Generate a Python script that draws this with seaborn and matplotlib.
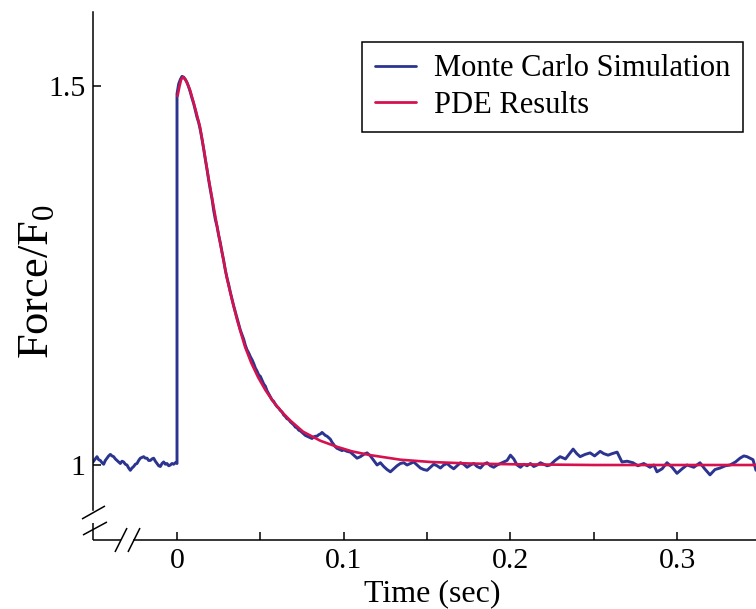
import matplotlib
matplotlib.use("Agg")
import matplotlib.pyplot as plt
import seaborn as sns
import pandas as pd

# ---------------- data ----------------
mc_time = [
    -0.0504, -0.049, -0.048, -0.047, -0.046, -0.045, -0.044, -0.043, -0.042, -0.041,
    -0.040, -0.039, -0.038, -0.037, -0.036, -0.035, -0.034, -0.033, -0.032, -0.031,
    -0.030, -0.029, -0.028, -0.027, -0.026, -0.025, -0.024, -0.023, -0.022, -0.021,
    -0.020, -0.019, -0.018, -0.017, -0.016, -0.015, -0.014, -0.013, -0.012, -0.011,
    -0.010, -0.009, -0.008, -0.007, -0.006, -0.005, -0.004, -0.003, -0.002, -0.001,
    0.0, 0.0,
    0.001, 0.002, 0.003, 0.004, 0.005, 0.006, 0.007, 0.008, 0.009, 0.010,
    0.011, 0.012, 0.013, 0.014, 0.015, 0.016, 0.017, 0.018, 0.019, 0.020,
    0.021, 0.022, 0.023, 0.024, 0.025, 0.026, 0.027, 0.028, 0.029, 0.030,
    0.031, 0.032, 0.033, 0.034, 0.035, 0.036, 0.037, 0.038, 0.039, 0.040,
    0.041, 0.042, 0.043, 0.044, 0.045, 0.046, 0.047, 0.048, 0.049, 0.050,
    0.051, 0.052, 0.053, 0.054, 0.055, 0.056, 0.057, 0.058, 0.059, 0.060,
    0.061, 0.062, 0.063, 0.064, 0.065, 0.066, 0.067, 0.068, 0.069, 0.070,
    0.071, 0.072, 0.073, 0.074, 0.075, 0.076, 0.077, 0.078, 0.079, 0.080,
    0.081, 0.082, 0.083, 0.084, 0.085, 0.086, 0.087, 0.088, 0.089, 0.090,
    0.091, 0.092, 0.093, 0.094, 0.095, 0.096, 0.097, 0.098, 0.099, 0.100,
    0.102, 0.104, 0.106, 0.108, 0.110, 0.112, 0.114, 0.116, 0.118, 0.120,
    0.122, 0.124, 0.126, 0.128, 0.130, 0.132, 0.134, 0.136, 0.138, 0.140,
    0.142, 0.144, 0.146, 0.148, 0.150, 0.152, 0.154, 0.156, 0.158, 0.160,
    0.162, 0.164, 0.166, 0.168, 0.170, 0.172, 0.174, 0.176, 0.178, 0.180,
    0.182, 0.184, 0.186, 0.188, 0.190, 0.192, 0.194, 0.196, 0.198, 0.200,
    0.202, 0.204, 0.206, 0.208, 0.210, 0.212, 0.214, 0.216, 0.218, 0.220,
    0.222, 0.2238, 0.2268, 0.2298, 0.2330, 0.2355, 0.2376, 0.2398, 0.2418, 0.2448,
    0.2478, 0.2505, 0.2538, 0.2560, 0.2586, 0.2610, 0.2640, 0.2669, 0.2700, 0.2735,
    0.2765, 0.2800, 0.2837, 0.2860, 0.2879, 0.2910, 0.2939, 0.2970, 0.2999, 0.3030,
    0.3059, 0.3100, 0.3137, 0.3165, 0.3197, 0.3227, 0.3257, 0.3290, 0.3317, 0.3350,
    0.3377, 0.3400, 0.3419, 0.3445, 0.3455, 0.3473,
]
mc_force = [
    1.004, 1.008, 1.011, 1.007, 1.006, 1.003, 1.001, 1.006, 1.009, 1.012,
    1.014, 1.012, 1.011, 1.008, 1.006, 1.004, 1.002, 1.005, 1.004, 1.001,
    1.000, 0.996, 0.993, 0.996, 0.998, 1.001, 1.002, 1.006, 1.009, 1.010,
    1.011, 1.009, 1.009, 1.006, 1.006, 1.008, 1.009, 1.005, 1.002, 0.999,
    0.998, 1.002, 1.004, 1.001, 1.002, 0.999, 1.000, 1.002, 1.001, 1.003,
    1.002, 1.490,
    1.503, 1.509, 1.513, 1.512, 1.509, 1.505, 1.499, 1.492, 1.484, 1.477,
    1.468, 1.459, 1.452, 1.442, 1.430, 1.417, 1.403, 1.390, 1.376, 1.363,
    1.351, 1.336, 1.324, 1.315, 1.303, 1.293, 1.281, 1.270, 1.257, 1.247,
    1.238, 1.228, 1.219, 1.210, 1.202, 1.194, 1.186, 1.178, 1.172, 1.166,
    1.158, 1.152, 1.148, 1.143, 1.139, 1.134, 1.128, 1.124, 1.119, 1.117,
    1.112, 1.107, 1.104, 1.098, 1.094, 1.090, 1.086, 1.084, 1.080, 1.077,
    1.075, 1.072, 1.070, 1.066, 1.064, 1.061, 1.060, 1.057, 1.055, 1.053,
    1.050, 1.049, 1.046, 1.045, 1.043, 1.041, 1.039, 1.038, 1.037, 1.036,
    1.035, 1.037, 1.038, 1.038, 1.040, 1.041, 1.043, 1.041, 1.039, 1.038,
    1.036, 1.034, 1.030, 1.027, 1.024, 1.022, 1.021, 1.020, 1.019, 1.020,
    1.018, 1.017, 1.013, 1.009, 1.011, 1.014, 1.016, 1.012, 1.006, 1.000,
    1.003, 0.998, 0.994, 0.991, 0.995, 0.999, 1.002, 1.003, 1.000, 1.002,
    1.004, 1.000, 0.996, 0.994, 0.993, 0.997, 1.001, 0.999, 0.996, 1.000,
    1.002, 0.998, 0.995, 0.999, 1.003, 1.001, 0.997, 1.000, 1.002, 0.998,
    0.996, 1.001, 1.003, 0.999, 0.997, 1.000, 1.002, 1.004, 1.006, 1.013,
    1.008, 1.000, 0.997, 1.001, 0.999, 1.002, 0.998, 1.000, 1.003, 1.001,
    0.999, 1.000, 1.006, 1.011, 1.008, 1.015, 1.021, 1.015, 1.011, 1.014,
    1.016, 1.012, 1.018, 1.015, 1.013, 1.015, 1.017, 1.004, 1.005, 1.003,
    0.999, 1.002, 0.997, 1.000, 0.991, 0.995, 1.003, 0.997, 0.989, 0.995,
    1.000, 0.997, 1.003, 0.995, 0.987, 0.994, 0.996, 0.999, 1.000, 1.004,
    1.009, 1.012, 1.011, 1.008, 1.007, 0.993,
]

pde_time = [
    0.0003, 0.0015, 0.0025, 0.0036, 0.0050, 0.0065, 0.0078, 0.0095, 0.0115, 0.0138,
    0.0163, 0.0188, 0.0213, 0.0238, 0.0265, 0.0300, 0.0330, 0.0360, 0.0385, 0.0408,
    0.0445, 0.0486, 0.0530, 0.0576, 0.0625, 0.0678, 0.0756, 0.0860, 0.0960, 0.1050,
    0.1160, 0.1340, 0.1520, 0.1750, 0.2000, 0.2500, 0.3473,
]
pde_force = [
    1.487, 1.500, 1.509, 1.512, 1.509, 1.502, 1.495, 1.482, 1.466, 1.446,
    1.414, 1.380, 1.349, 1.318, 1.286, 1.246, 1.218, 1.192, 1.173, 1.156,
    1.135, 1.116, 1.099, 1.084, 1.071, 1.059, 1.044, 1.032, 1.024, 1.018,
    1.013, 1.007, 1.004, 1.002, 1.001, 1.000, 1.000,
]

series_names = ["Monte Carlo Simulation", "PDE Results"]
x_ticks = [0, 0.1, 0.2, 0.3]
x_tick_labels = ["0", "0.1", "0.2", "0.3"]
x_minor_ticks = [0.05, 0.15, 0.25]
y_ticks = [1, 1.5]
y_tick_labels = ["1", "1.5"]

# ---------------- styling ----------------
sns.set_style("ticks")
plt.rcParams["font.family"] = ["Liberation Serif", "DejaVu Serif"]
plt.rcParams["mathtext.fontset"] = "custom"
plt.rcParams["mathtext.rm"] = "Liberation Serif"
plt.rcParams["mathtext.it"] = "Liberation Serif:italic"
plt.rcParams["text.color"] = "black"
plt.rcParams["axes.labelcolor"] = "black"
plt.rcParams["xtick.color"] = "black"
plt.rcParams["ytick.color"] = "black"

BLUE = "#2B3590"
RED = "#D5124E"
LW_AX = 1.1

fig = plt.figure(figsize=(7.56, 6.09), dpi=100)
ax = fig.add_axes([0.123, 0.1133, 0.877, 0.867])

mc_df = pd.DataFrame({"t": mc_time, "f": mc_force})
pde_df = pd.DataFrame({"t": pde_time, "f": pde_force})

sns.lineplot(data=mc_df, x="t", y="f", ax=ax, color=BLUE, lw=2.1,
             sort=False, estimator=None, label=series_names[0])
sns.lineplot(data=pde_df, x="t", y="f", ax=ax, color=RED, lw=1.9,
             sort=False, estimator=None, label=series_names[1])

XMIN, XMAX = -0.0504, 0.3473
YMIN, YMAX = 0.901, 1.598
ax.set_xlim(XMIN, XMAX)
ax.set_ylim(YMIN, YMAX)

# spines with broken-axis look
ax.spines["top"].set_visible(False)
ax.spines["right"].set_visible(False)
for s in ("left", "bottom"):
    ax.spines[s].set_linewidth(LW_AX)
    ax.spines[s].set_color("black")
ax.spines["left"].set_bounds(0.9406, YMAX)
ax.spines["bottom"].set_bounds(-0.0257, XMAX)

kw = dict(transform=ax.transAxes, clip_on=False, color="black", lw=LW_AX,
          solid_capstyle="butt")
# stubs
ax.plot([0, 0], [0, 0.032], **kw)
ax.plot([0, 0.042], [0, 0], **kw)
# slashes on y axis
ax.plot([-0.0166, 0.0181], [0.0398, 0.0644], **kw)
ax.plot([-0.0151, 0.0211], [0.0095, 0.0341], **kw)
# slashes on x axis
ax.plot([0.0332, 0.0513], [-0.0227, 0.0227], **kw)
ax.plot([0.0528, 0.0709], [-0.0227, 0.0227], **kw)

ax.set_xticks(x_ticks, x_tick_labels)
ax.set_xticks(x_minor_ticks, minor=True)
ax.set_yticks(y_ticks, y_tick_labels)
ax.tick_params(which="both", direction="in", length=6, width=LW_AX,
               color="black", labelsize=21.5, pad=5.5, labelcolor="black")

ax.set_xlabel("Time (sec)", fontsize=23, labelpad=4, color="black")
ax.xaxis.label.set_x(0.511)
ax.set_ylabel("Force/F$_0$", fontsize=32, color="black")
ax.yaxis.set_label_coords(-0.055, 0.49)

leg = ax.legend(loc="upper right", bbox_to_anchor=(0.980, 0.943),
                borderaxespad=0, frameon=True, fancybox=False,
                edgecolor="black", framealpha=1, fontsize=22,
                handlelength=1.35, handletextpad=0.6, borderpad=0.4,
                labelspacing=0.25)
leg.get_frame().set_linewidth(LW_AX)
for t in leg.get_texts():
    t.set_color("black")
for h in leg.get_lines():
    h.set_linewidth(2.0)

fig.savefig("out.png", dpi=100)
